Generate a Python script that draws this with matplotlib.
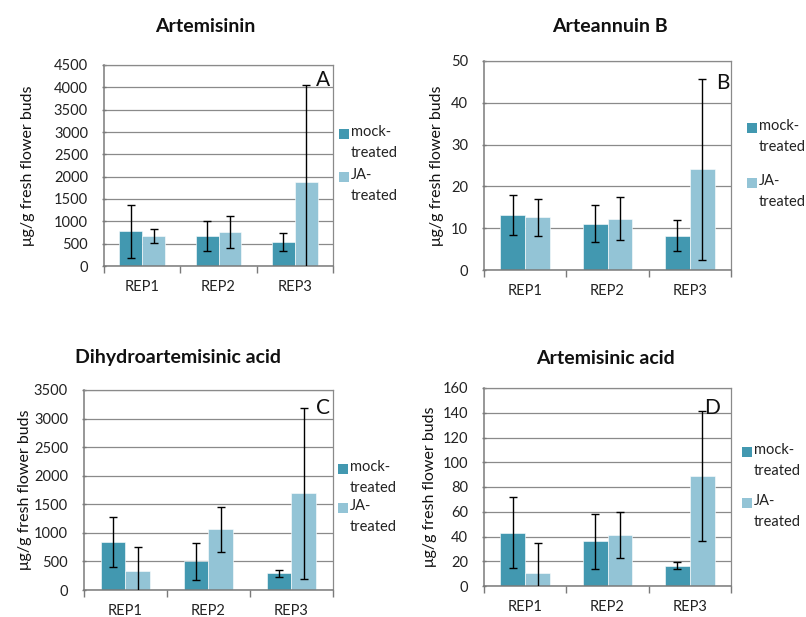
import matplotlib
matplotlib.use("Agg")
import matplotlib.pyplot as plt
from matplotlib.patches import Rectangle
import numpy as np

plt.rcParams['font.family'] = ['Lato', 'DejaVu Sans']

reps = ["REP1", "REP2", "REP3"]
series_names = ["mock-\ntreated", "JA-\ntreated"]

titles = ["Artemisinin", "Arteannuin B", "Dihydroartemisinic acid", "Artemisinic acid"]
letters = ["A", "B", "C", "D"]

# means and error (± SD) per replicate
art_mock = [780, 670, 530]
art_mock_err = [590, 345, 200]
art_ja = [675, 760, 1880]
art_ja_err = [155, 355, 2170]

artB_mock = [13.2, 11.1, 8.2]
artB_mock_err = [4.85, 4.5, 3.7]
artB_ja = [12.6, 12.3, 24.1]
artB_ja_err = [4.5, 5.2, 21.6]

dha_mock = [840, 500, 290]
dha_mock_err = [445, 320, 62]
dha_ja = [340, 1060, 1690]
dha_ja_err = [410, 400, 1490]

aa_mock = [43, 36, 16.5]
aa_mock_err = [28.8, 22, 3]
aa_ja = [10.5, 41, 89]
aa_ja_err = [24, 18.5, 52.7]

ymax = [4500, 50, 3500, 160]
ystep = [500, 10, 500, 20]

panels = [
    (art_mock, art_mock_err, art_ja, art_ja_err),
    (artB_mock, artB_mock_err, artB_ja, artB_ja_err),
    (dha_mock, dha_mock_err, dha_ja, dha_ja_err),
    (aa_mock, aa_mock_err, aa_ja, aa_ja_err),
]

W, H = 806, 617
fig = plt.figure(figsize=(W / 100, H / 100), dpi=100)

# plot-area boxes in pixels: left, right, top, bottom
boxes = [(104, 333, 65, 266), (484, 731, 61, 270), (84, 333, 390, 590), (484, 731, 388, 586)]
title_pos = [(205, 27), (610, 27), (178, 358), (605, 358)]
ylabel_x = [28, 437, 25, 430]
legend_px = [(339, 129, 172), (747, 123, 178), (338, 464, 503), (742, 447, 498)]
letter_pos = [(330, 70), (730, 73), (330, 398), (720, 398)]

c_mock = "#4298b0"
c_ja = "#93c4d6"
grid_c = "#8a8a8a"
axis_c = "#7a7a7a"


def fx(x):
    return x / W


def fy(y):
    return 1 - y / H


x = np.arange(len(reps))
bw = 0.3

for i, (mock, mock_err, ja, ja_err) in enumerate(panels):
    l, r, t, b = boxes[i]
    ax = fig.add_axes([fx(l), fy(b), (r - l) / W, (b - t) / H])
    ax.set_axisbelow(True)
    ax.bar(x - bw / 2, mock, bw, color=c_mock, edgecolor="white", linewidth=0.4, zorder=2)
    ax.bar(x + bw / 2, ja, bw, color=c_ja, edgecolor="white", linewidth=0.4, zorder=2)
    ax.errorbar(x - bw / 2, mock, yerr=mock_err, fmt="none", ecolor="black",
                elinewidth=1, capsize=3.2, capthick=1, zorder=3)
    ax.errorbar(x + bw / 2, ja, yerr=ja_err, fmt="none", ecolor="black",
                elinewidth=1, capsize=3.2, capthick=1, zorder=3)

    ax.set_xlim(-0.5, 2.5)
    ax.set_ylim(0, ymax[i])
    ax.set_yticks(np.arange(0, ymax[i] + ystep[i] / 2, ystep[i]))
    ax.yaxis.grid(True, color=grid_c, linewidth=0.9)
    ax.set_xticks(x)
    ax.set_xticklabels(reps, fontsize=10.5, color="#222222")
    ax.set_xticks([-0.5, 0.5, 1.5, 2.5], minor=True)
    ax.tick_params(axis="x", which="major", length=0, pad=10)
    ax.tick_params(axis="x", which="minor", length=5, direction="out", color=axis_c, width=1)
    ax.tick_params(axis="y", length=3, direction="inout", color=axis_c, width=1,
                   labelsize=10.5, labelcolor="#222222", pad=10)
    for side in ["left", "bottom"]:
        ax.spines[side].set_color(axis_c)
        ax.spines[side].set_linewidth(1.1)
    for side in ["top", "right"]:
        ax.spines[side].set_color(grid_c)
        ax.spines[side].set_linewidth(0.9)

    fig.text(fx(title_pos[i][0]), fy(title_pos[i][1]), titles[i], fontsize=14,
             fontweight="bold", ha="center", va="center", color="#111111")
    fig.text(fx(ylabel_x[i]), fy((t + b) / 2), "\u03bcg/g fresh flower buds", rotation=90,
             fontsize=11.5, ha="center", va="center", color="#111111")
    fig.text(fx(letter_pos[i][0]), fy(letter_pos[i][1]), letters[i], fontsize=15,
             ha="right", va="top", color="#111111")

    lx, ym, yj = legend_px[i]
    for yy, col, lab in [(ym, c_mock, series_names[0]), (yj, c_ja, series_names[1])]:
        fig.patches.append(Rectangle((fx(lx), fy(yy + 10)), 10 / W, 10 / H,
                                     transform=fig.transFigure, facecolor=col,
                                     edgecolor="none"))
        fig.text(fx(lx + 12), fy(yy - 4), lab, fontsize=10.5, ha="left", va="top",
                 linespacing=1.6, color="#222222")

fig.savefig("out.png", dpi=100, facecolor="white")
